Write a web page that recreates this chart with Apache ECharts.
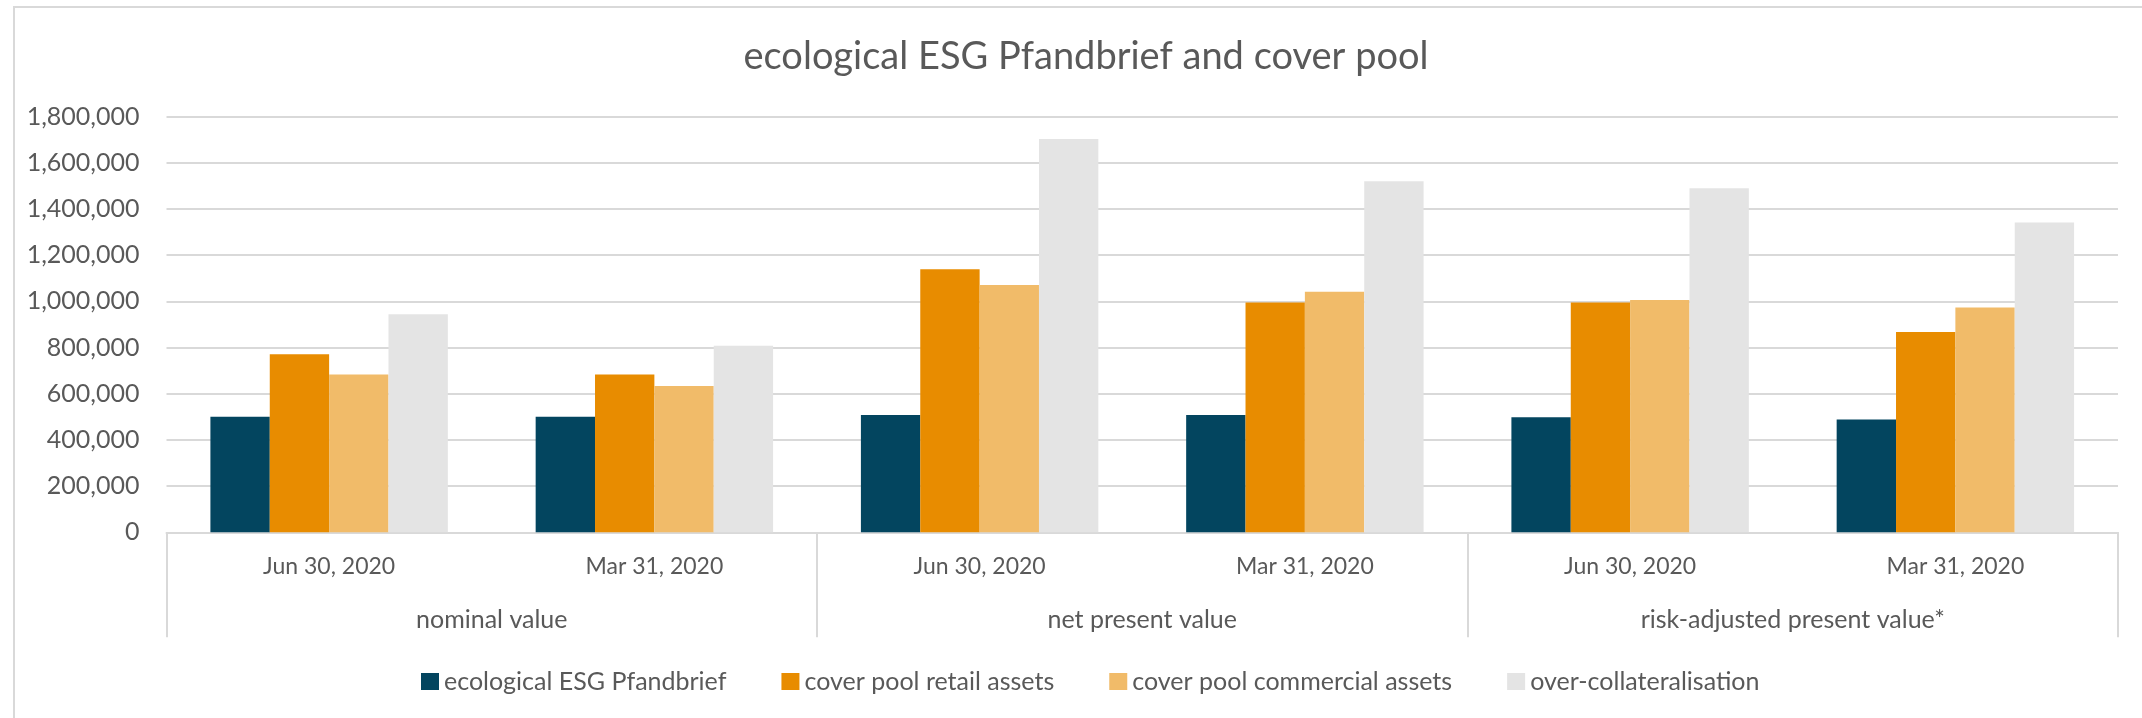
<!DOCTYPE html>
<html>
<head>
<meta charset="utf-8">
<script src="https://cdn.jsdelivr.net/npm/echarts@6/dist/echarts.min.js"></script>
<style>
  body { margin: 0; background: #fff; }
  #frame { position: absolute; left: 13px; top: 6px; width: 2200px; height: 800px;
           border-left: 2px solid #d9d9d9; border-top: 2px solid #d9d9d9; }
  #esgchart { position: absolute; left: 0; top: 0; width: 2142px; height: 718px; }
</style>
</head>
<body>
<div id="frame"></div>
<div id="esgchart"></div>
<script>
var dates = ['Jun 30, 2020', 'Mar 31, 2020', 'Jun 30, 2020', 'Mar 31, 2020', 'Jun 30, 2020', 'Mar 31, 2020'];
var groups = ['nominal value', 'net present value', 'risk-adjusted present value*'];
var seriesNames = ['ecological ESG Pfandbrief', 'cover pool retail assets', 'cover pool commercial assets', 'over-collateralisation'];

var pfandbrief = [500000, 500000, 508000, 508000, 498000, 489000];
var retail = [771000, 683000, 1139000, 995000, 995000, 868000];
var commercial = [683000, 634000, 1071000, 1042000, 1006000, 974000];
var overColl = [944000, 808000, 1703000, 1520000, 1490000, 1342000];

var colors = ['#03455f', '#e88c00', '#f1bb69', '#e4e4e4'];
var txt = '#595959';
var font = 'Lato';

var allData = [pfandbrief, retail, commercial, overColl];
var series = [];
for (var i = 0; i < 4; i++) {
    series.push({
        name: seriesNames[i],
        type: 'bar',
        xAxisIndex: 0,
        barGap: '0%',
        barCategoryGap: '27%',
        itemStyle: { color: colors[i] },
        data: allData[i]
    });
}

var option = {
    animation: false,
    color: colors,
    title: {
        text: 'ecological ESG Pfandbrief and cover pool',
        left: 1081,
        textAlign: 'center',
        top: 33,
        textStyle: { fontFamily: font, fontSize: 38, fontWeight: 'normal', color: txt }
    },
    legend: {
        data: seriesNames,
        left: 416,
        top: 664,
        itemWidth: 18,
        itemHeight: 17,
        itemGap: 55,
        icon: 'rect',
        textStyle: { fontFamily: font, fontSize: 25, color: txt }
    },
    grid: { left: 166.5, right: 24, top: 116.7, bottom: 185.7, containLabel: false },
    xAxis: [
        {
            type: 'category',
            position: 'bottom',
            data: dates,
            axisLine: { show: true, lineStyle: { color: '#d9d9d9', width: 2 } },
            axisTick: { show: false },
            axisLabel: { margin: 23, fontFamily: font, fontSize: 23, color: txt, interval: 0 }
        },
        {
            type: 'category',
            position: 'bottom',
            data: groups,
            axisLine: { show: false },
            axisTick: { show: true, length: 105, lineStyle: { color: '#d9d9d9', width: 2 } },
            axisLabel: { margin: 75, fontFamily: font, fontSize: 25, color: txt, interval: 0 }
        }
    ],
    yAxis: {
        type: 'value',
        min: 0,
        max: 1800000,
        interval: 200000,
        axisLine: { show: false },
        axisTick: { show: false },
        splitLine: { lineStyle: { color: '#d9d9d9', width: 2 } },
        axisLabel: {
            margin: 27,
            fontFamily: font,
            fontSize: 25,
            color: txt,
            formatter: function (v) { return v.toLocaleString('en-US'); }
        }
    },
    series: series
};

var myChart = echarts.init(document.getElementById('esgchart'));
myChart.setOption(option);
</script>
</body>
</html>
